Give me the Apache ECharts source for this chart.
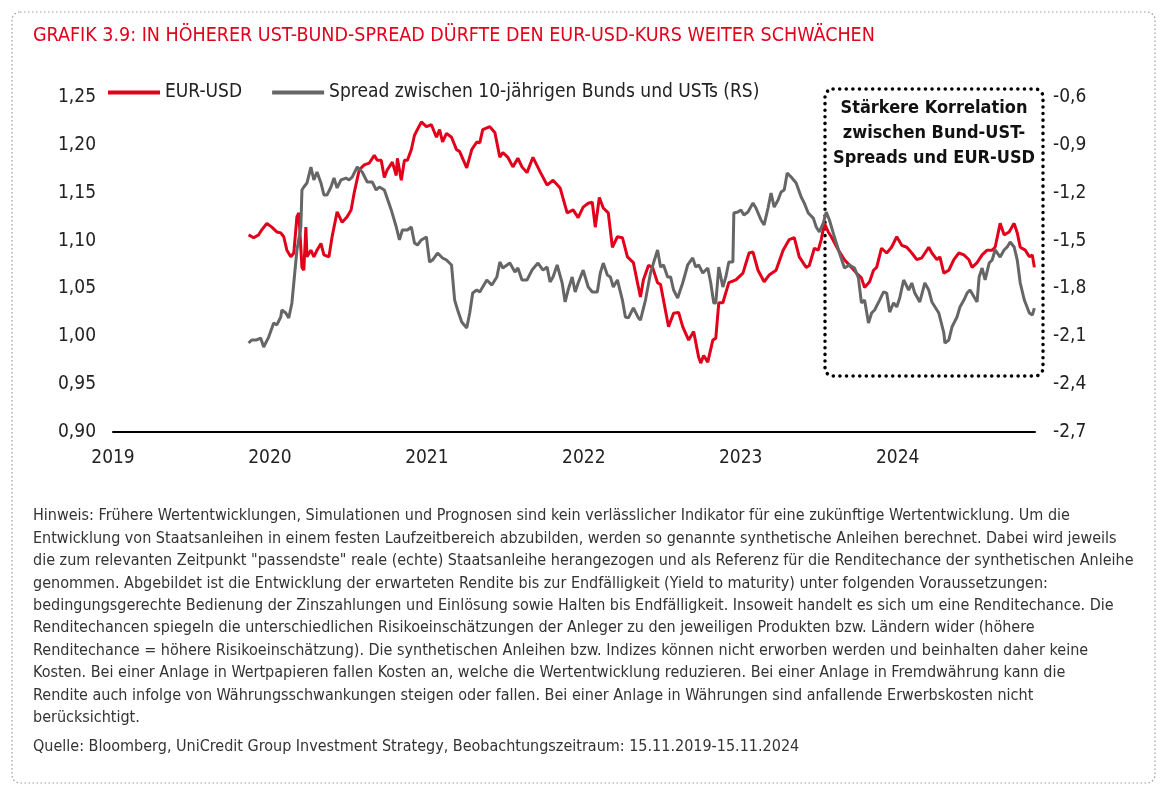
<!DOCTYPE html>
<html>
<head>
<meta charset="utf-8">
<script src="https://cdn.jsdelivr.net/npm/echarts@6/dist/echarts.min.js"></script>
<style>
html,body{margin:0;padding:0;background:#fff;}
#main{width:1166px;height:794px;}
</style>
</head>
<body>
<div id="main"></div>
<script>
// ---- Data (time in decimal years) ----
var eurTime = [2019.864,2019.896,2019.928,2019.947,2019.980,2020.012,2020.044,2020.069,2020.088,2020.108,2020.133,2020.152,2020.172,2020.184,2020.204,2020.216,2020.229,2020.236,2020.261,2020.280,2020.300,2020.325,2020.344,2020.376,2020.396,2020.428,2020.460,2020.492,2020.517,2020.537,2020.569,2020.601,2020.633,2020.665,2020.684,2020.709,2020.729,2020.748,2020.780,2020.805,2020.812,2020.837,2020.857,2020.876,2020.901,2020.921,2020.965,2020.997,2021.029,2021.061,2021.081,2021.100,2021.125,2021.157,2021.189,2021.209,2021.254,2021.286,2021.318,2021.337,2021.356,2021.401,2021.433,2021.465,2021.484,2021.516,2021.548,2021.580,2021.606,2021.638,2021.676,2021.721,2021.766,2021.804,2021.849,2021.894,2021.932,2021.964,2021.996,2022.028,2022.054,2022.073,2022.099,2022.124,2022.156,2022.182,2022.214,2022.246,2022.278,2022.316,2022.342,2022.361,2022.380,2022.412,2022.438,2022.470,2022.489,2022.540,2022.572,2022.604,2022.630,2022.668,2022.700,2022.732,2022.745,2022.764,2022.790,2022.822,2022.841,2022.860,2022.886,2022.924,2022.969,2023.014,2023.053,2023.078,2023.110,2023.149,2023.181,2023.225,2023.270,2023.309,2023.341,2023.373,2023.417,2023.437,2023.469,2023.494,2023.513,2023.533,2023.558,2023.577,2023.622,2023.661,2023.705,2023.737,2023.769,2023.789,2023.821,2023.846,2023.866,2023.897,2023.930,2023.961,2023.994,2024.026,2024.058,2024.090,2024.122,2024.154,2024.198,2024.218,2024.250,2024.269,2024.294,2024.326,2024.358,2024.390,2024.422,2024.454,2024.474,2024.506,2024.538,2024.570,2024.602,2024.621,2024.653,2024.678,2024.710,2024.742,2024.762,2024.781,2024.813,2024.839,2024.858,2024.871];
var eurValue = [1.106,1.103,1.106,1.111,1.118,1.114,1.109,1.108,1.104,1.090,1.083,1.087,1.125,1.129,1.072,1.069,1.114,1.083,1.090,1.083,1.090,1.097,1.085,1.083,1.104,1.130,1.119,1.125,1.132,1.150,1.174,1.179,1.181,1.189,1.184,1.184,1.166,1.174,1.182,1.168,1.186,1.163,1.184,1.184,1.195,1.210,1.224,1.219,1.221,1.208,1.216,1.203,1.212,1.208,1.195,1.193,1.176,1.195,1.203,1.202,1.216,1.219,1.213,1.187,1.192,1.187,1.177,1.186,1.177,1.171,1.187,1.172,1.158,1.163,1.155,1.129,1.132,1.124,1.135,1.139,1.140,1.114,1.145,1.134,1.129,1.093,1.104,1.103,1.083,1.077,1.056,1.041,1.059,1.074,1.072,1.056,1.054,1.010,1.024,1.025,1.010,0.996,1.005,0.978,0.972,0.980,0.973,0.996,0.998,1.035,1.035,1.056,1.059,1.066,1.087,1.088,1.069,1.057,1.064,1.069,1.090,1.101,1.103,1.083,1.072,1.074,1.092,1.090,1.101,1.118,1.109,1.104,1.090,1.080,1.072,1.066,1.061,1.051,1.057,1.069,1.072,1.092,1.087,1.093,1.104,1.095,1.093,1.087,1.080,1.082,1.093,1.087,1.080,1.083,1.066,1.069,1.080,1.087,1.085,1.080,1.072,1.077,1.085,1.090,1.090,1.093,1.118,1.106,1.109,1.118,1.108,1.093,1.090,1.083,1.085,1.072];

var spreadTime = [2019.864,2019.884,2019.915,2019.941,2019.960,2019.992,2020.024,2020.044,2020.069,2020.076,2020.101,2020.120,2020.140,2020.152,2020.172,2020.197,2020.204,2020.216,2020.236,2020.261,2020.280,2020.300,2020.325,2020.344,2020.364,2020.389,2020.408,2020.428,2020.453,2020.485,2020.504,2020.524,2020.556,2020.588,2020.620,2020.652,2020.677,2020.697,2020.729,2020.773,2020.805,2020.825,2020.844,2020.876,2020.901,2020.921,2020.940,2020.965,2020.997,2021.017,2021.036,2021.068,2021.100,2021.125,2021.157,2021.177,2021.196,2021.222,2021.254,2021.273,2021.292,2021.318,2021.337,2021.382,2021.414,2021.446,2021.465,2021.484,2021.529,2021.561,2021.580,2021.606,2021.638,2021.670,2021.708,2021.740,2021.766,2021.785,2021.804,2021.830,2021.862,2021.881,2021.900,2021.926,2021.945,2021.964,2021.996,2022.028,2022.054,2022.086,2022.105,2022.124,2022.150,2022.169,2022.188,2022.214,2022.246,2022.265,2022.284,2022.316,2022.348,2022.361,2022.393,2022.425,2022.444,2022.470,2022.489,2022.508,2022.534,2022.553,2022.572,2022.598,2022.630,2022.662,2022.694,2022.713,2022.732,2022.758,2022.790,2022.809,2022.828,2022.841,2022.860,2022.886,2022.905,2022.924,2022.950,2022.956,2022.982,2023.001,2023.020,2023.046,2023.078,2023.097,2023.129,2023.149,2023.174,2023.193,2023.213,2023.238,2023.257,2023.277,2023.296,2023.321,2023.353,2023.385,2023.405,2023.430,2023.462,2023.481,2023.501,2023.526,2023.545,2023.565,2023.597,2023.629,2023.661,2023.693,2023.725,2023.750,2023.769,2023.789,2023.814,2023.834,2023.853,2023.885,2023.910,2023.930,2023.949,2023.974,2023.994,2024.013,2024.038,2024.070,2024.090,2024.109,2024.141,2024.173,2024.198,2024.218,2024.262,2024.294,2024.301,2024.326,2024.346,2024.378,2024.397,2024.422,2024.442,2024.461,2024.487,2024.506,2024.519,2024.538,2024.557,2024.583,2024.602,2024.621,2024.653,2024.678,2024.698,2024.717,2024.742,2024.762,2024.781,2024.807,2024.839,2024.858,2024.871];
var spreadValue = [-2.142,-2.123,-2.123,-2.111,-2.167,-2.105,-2.017,-2.029,-1.979,-1.935,-1.954,-1.985,-1.891,-1.766,-1.559,-1.415,-1.183,-1.164,-1.139,-1.039,-1.120,-1.070,-1.139,-1.214,-1.214,-1.164,-1.108,-1.170,-1.120,-1.108,-1.120,-1.102,-1.039,-1.070,-1.133,-1.133,-1.183,-1.164,-1.183,-1.308,-1.415,-1.496,-1.434,-1.434,-1.415,-1.515,-1.528,-1.496,-1.478,-1.634,-1.622,-1.578,-1.609,-1.622,-1.653,-1.873,-1.935,-2.011,-2.048,-1.954,-1.829,-1.810,-1.822,-1.747,-1.779,-1.728,-1.634,-1.672,-1.641,-1.697,-1.672,-1.747,-1.747,-1.685,-1.641,-1.685,-1.666,-1.760,-1.728,-1.653,-1.766,-1.885,-1.810,-1.728,-1.822,-1.766,-1.685,-1.791,-1.822,-1.822,-1.703,-1.641,-1.716,-1.728,-1.791,-1.747,-1.873,-1.979,-1.985,-1.923,-1.985,-1.998,-1.873,-1.703,-1.641,-1.559,-1.666,-1.653,-1.728,-1.728,-1.810,-1.860,-1.766,-1.653,-1.609,-1.666,-1.653,-1.703,-1.672,-1.766,-1.891,-1.891,-1.666,-1.791,-1.728,-1.634,-1.634,-1.327,-1.321,-1.308,-1.340,-1.321,-1.265,-1.296,-1.371,-1.402,-1.296,-1.202,-1.290,-1.246,-1.196,-1.183,-1.076,-1.102,-1.139,-1.227,-1.265,-1.327,-1.359,-1.415,-1.446,-1.390,-1.321,-1.371,-1.478,-1.578,-1.672,-1.653,-1.672,-1.735,-1.891,-1.873,-2.017,-1.954,-1.935,-1.873,-1.822,-1.829,-1.948,-1.891,-1.916,-1.860,-1.747,-1.810,-1.766,-1.829,-1.885,-1.766,-1.810,-1.885,-1.954,-2.079,-2.142,-2.123,-2.042,-1.979,-1.916,-1.873,-1.829,-1.810,-1.854,-1.885,-1.728,-1.672,-1.747,-1.641,-1.622,-1.559,-1.603,-1.559,-1.540,-1.509,-1.540,-1.622,-1.766,-1.873,-1.954,-1.967,-1.923];

var seriesNames = ['EUR-USD', 'Spread zwischen 10-jährigen Bunds und USTs (RS)'];
var titleText = 'GRAFIK 3.9: IN HÖHERER UST-BUND-SPREAD DÜRFTE DEN EUR-USD-KURS WEITER SCHWÄCHEN';
var boxText = 'Stärkere Korrelation\nzwischen Bund-UST-\nSpreads und EUR-USD';
var noteText = [
'Hinweis: Frühere Wertentwicklungen, Simulationen und Prognosen sind kein verlässlicher Indikator für eine zukünftige Wertentwicklung. Um die',
'Entwicklung von Staatsanleihen in einem festen Laufzeitbereich abzubilden, werden so genannte synthetische Anleihen berechnet. Dabei wird jeweils',
'die zum relevanten Zeitpunkt "passendste" reale (echte) Staatsanleihe herangezogen und als Referenz für die Renditechance der synthetischen Anleihe',
'genommen. Abgebildet ist die Entwicklung der erwarteten Rendite bis zur Endfälligkeit (Yield to maturity) unter folgenden Voraussetzungen:',
'bedingungsgerechte Bedienung der Zinszahlungen und Einlösung sowie Halten bis Endfälligkeit. Insoweit handelt es sich um eine Renditechance. Die',
'Renditechancen spiegeln die unterschiedlichen Risikoeinschätzungen der Anleger zu den jeweiligen Produkten bzw. Ländern wider (höhere',
'Renditechance = höhere Risikoeinschätzung). Die synthetischen Anleihen bzw. Indizes können nicht erworben werden und beinhalten daher keine',
'Kosten. Bei einer Anlage in Wertpapieren fallen Kosten an, welche die Wertentwicklung reduzieren. Bei einer Anlage in Fremdwährung kann die',
'Rendite auch infolge von Währungsschwankungen steigen oder fallen. Bei einer Anlage in Währungen sind anfallende Erwerbskosten nicht',
'berücksichtigt.'
];
var sourceText = 'Quelle: Bloomberg, UniCredit Group Investment Strategy, Beobachtungszeitraum: 15.11.2019-15.11.2024';

var FONT = "'Liberation Sans Narrow','DejaVu Sans Condensed','Roboto',sans-serif";
var RED = '#e2001a', GRAY = '#666666';

function zip(t, v){ var out=[]; for (var i=0;i<t.length;i++) out.push([t[i], v[i]]); return out; }

var chart = echarts.init(document.getElementById('main'), null, {renderer:'canvas'});
chart.setOption({
  backgroundColor:'#fff',
  animation:false,
  textStyle:{fontFamily:FONT},
  title:{text:titleText,left:28,top:21,textStyle:{color:RED,fontSize:19.5,fontWeight:'normal',fontFamily:FONT}},
  legend:{
    left:103, top:78, itemWidth:52, itemHeight:4, itemGap:30, icon:'rect',
    textStyle:{fontSize:19,color:'#222',fontFamily:FONT},
    data:seriesNames
  },
  grid:{left:113,right:131,top:97,bottom:362,containLabel:false},
  xAxis:{
    type:'value', min:2019, max:2024.875, interval:1,
    axisLine:{show:true,lineStyle:{color:'#000',width:2}},
    axisTick:{show:false}, splitLine:{show:false},
    axisLabel:{fontSize:19,color:'#222',margin:17,showMaxLabel:false,fontFamily:FONT,
      formatter:function(v){return String(Math.round(v));}}
  },
  yAxis:[
    {type:'value',min:0.9,max:1.25,interval:0.05,
     axisLine:{show:false},axisTick:{show:false},splitLine:{show:false},
     axisLabel:{fontSize:19,color:'#222',margin:17,fontFamily:FONT,formatter:function(v){return v.toFixed(2).replace('.',',');}}},
    {type:'value',min:-2.7,max:-0.6,interval:0.3,position:'right',
     axisLine:{show:false},axisTick:{show:false},splitLine:{show:false},
     axisLabel:{fontSize:19,color:'#222',margin:18,fontFamily:FONT,formatter:function(v){return v.toFixed(1).replace('.',',');}}}
  ],
  series:[
    {name:seriesNames[0],type:'line',yAxisIndex:0,showSymbol:false,symbol:'none',
     lineStyle:{color:RED,width:3},itemStyle:{color:RED},data:zip(eurTime,eurValue)},
    {name:seriesNames[1],type:'line',yAxisIndex:1,showSymbol:false,symbol:'none',
     lineStyle:{color:GRAY,width:3},itemStyle:{color:GRAY},data:zip(spreadTime,spreadValue)}
  ],
  graphic:[
    {type:'rect',shape:{x:12,y:12,width:1143,height:771,r:8},silent:true,
     style:{fill:'none',stroke:'#9a9a9a',lineWidth:1.2,lineDash:[1.5,2.5]}},
    {type:'rect',shape:{x:825,y:89,width:218,height:287,r:8},silent:true,
     style:{fill:'none',stroke:'#000',lineWidth:3.5,lineDash:[0.1,6.5],lineCap:'round'}},
    {type:'text',x:934,y:96,silent:true,
     style:{text:boxText,fill:'#111',font:'bold 18px '+FONT,textAlign:'center',lineHeight:25}},
    {type:'text',x:33,y:505,silent:true,
     style:{text:noteText.join('\n'),fill:'#333',font:'16px '+FONT,lineHeight:22.4}},
    {type:'text',x:33,y:739,silent:true,
     style:{text:sourceText,fill:'#333',font:'16px '+FONT}}
  ]
});
</script>
</body>
</html>
